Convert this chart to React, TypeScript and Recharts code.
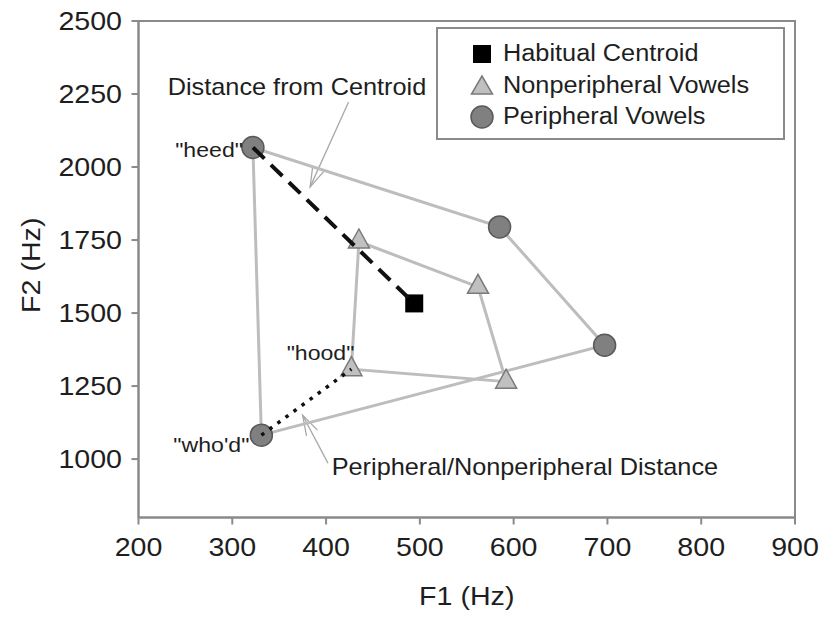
import React from 'react';
import {
  ScatterChart,
  Scatter,
  XAxis,
  YAxis,
  Legend,
  Label,
  ReferenceArea,
  ReferenceLine,
  ReferenceDot,
} from 'recharts';

// Formant values in Hz (F1 = x, F2 = y)
const peripheralWords = ['heed', '', '', "who'd"];
const peripheralF1 = [322, 585, 697, 331];
const peripheralF2 = [2067, 1795, 1390, 1082];

const nonperipheralWords = ['', '', '', 'hood'];
const nonperipheralF1 = [435, 562, 592, 427];
const nonperipheralF2 = [1745, 1590, 1265, 1308];

const centroidF1 = [494];
const centroidF2 = [1533];

const xTicks = [200, 300, 400, 500, 600, 700, 800, 900];
const yTicks = [1000, 1250, 1500, 1750, 2000, 2250, 2500];

// callouts: text anchor and arrow endpoints, in Hz
const noteTexts = ['Distance from Centroid', 'Peripheral/Nonperipheral Distance'];
const noteF1 = [369, 612];
const noteF2 = [2274, 973];
const arrowFromF1 = [424, 402];
const arrowFromF2 = [2223, 986];
const arrowToF1 = [383, 375];
const arrowToF2 = [1932, 1150];

const FONT = '"Liberation Sans", Arial, Helvetica, sans-serif';
const TEXT = '#1e1e1e';
const AXIS = '#8a8a8a';
const STRETCH = 1.1;

type Pt = { f1: number; f2: number; word: string };

const peripheral: Pt[] = peripheralF1.map((f1, i) => ({ f1, f2: peripheralF2[i], word: peripheralWords[i] }));
const nonperipheral: Pt[] = nonperipheralF1.map((f1, i) => ({ f1, f2: nonperipheralF2[i], word: nonperipheralWords[i] }));
const centroid: Pt[] = centroidF1.map((f1, i) => ({ f1, f2: centroidF2[i], word: '' }));

// closed outlines + connector lines
const peripheralRing = [...peripheral, peripheral[0]];
const nonperipheralRing = [...nonperipheral, nonperipheral[0]];
const centroidLink = [peripheral[0], centroid[0]];
const pairLink = [peripheral[3], nonperipheral[3]];

const wordOffset: Record<string, [number, number]> = {
  heed: [-10, 2],
  "who'd": [-12, 10],
  hood: [3, -16],
};

const CircleMark = ({ cx, cy }: any) => (
  <circle cx={cx} cy={cy} r={11} fill="#808080" stroke="#595959" strokeWidth={1.5} />
);

const TriangleMark = ({ cx, cy }: any) => (
  <polygon
    points={`${cx},${cy - 12.5} ${cx - 10.5},${cy + 6.5} ${cx + 10.5},${cy + 6.5}`}
    fill="#c0c0c0"
    stroke="#7a7a7a"
    strokeWidth={1.5}
  />
);

const SquareMark = ({ cx, cy }: any) => <rect x={cx - 9} y={cy - 9} width={18} height={18} fill="#000" />;

const NoMark = () => <g />;

const XTick = ({ x, y, payload }: any) => (
  <text
    transform={`translate(${x},${y}) scale(${STRETCH},1)`}
    textAnchor="middle"
    dy="0.71em"
    fontSize={26}
    fontFamily={FONT}
    fill={TEXT}
  >
    {payload.value}
  </text>
);

const YTick = ({ x, y, payload }: any) => (
  <text
    transform={`translate(${x},${y}) scale(${STRETCH},1)`}
    textAnchor="end"
    dy="0.35em"
    fontSize={26}
    fontFamily={FONT}
    fill={TEXT}
  >
    {payload.value}
  </text>
);

const Arrow = ({ x1, y1, x2, y2 }: any) => {
  const ang = Math.atan2(y1 - y2, x1 - x2);
  const len = 21;
  const spread = 0.3;
  const a = [x2 + len * Math.cos(ang - spread), y2 + len * Math.sin(ang - spread)];
  const b = [x2 + len * Math.cos(ang + spread), y2 + len * Math.sin(ang + spread)];
  return (
    <g stroke="#a8a8a8" strokeWidth={1.3} fill="none">
      <line x1={x1} y1={y1} x2={x2} y2={y2} />
      <polyline points={`${a[0]},${a[1]} ${x2},${y2} ${b[0]},${b[1]}`} />
    </g>
  );
};

const legendIcon = (type: string) => {
  if (type === 'square') return <rect x={3} y={3} width={18} height={18} fill="#000" />;
  if (type === 'triangle')
    return <polygon points="12,3 1.5,21 22.5,21" fill="#c0c0c0" stroke="#7a7a7a" strokeWidth={1.5} />;
  return <circle cx={12} cy={12} r={11} fill="#808080" stroke="#595959" strokeWidth={1.5} />;
};

const LegendBox = ({ payload }: any) => (
  <div
    style={{
      width: 349,
      height: 113,
      boxSizing: 'border-box',
      border: `2px solid ${AXIS}`,
      background: '#fff',
      paddingTop: 9,
      fontFamily: FONT,
    }}
  >
    {(payload || [])
      .filter((entry: any) => entry.type !== 'none')
      .map((entry: any) => (
        <div key={entry.value} style={{ display: 'flex', alignItems: 'center', height: 31.5 }}>
          <svg width={24} height={24} style={{ marginLeft: 32, flex: 'none' }}>
            {legendIcon(entry.type)}
          </svg>
          <span
            style={{
              marginLeft: 9,
              fontSize: 23,
              color: TEXT,
              display: 'inline-block',
              whiteSpace: 'nowrap',
              transform: `scaleX(${STRETCH})`,
              transformOrigin: 'left center',
            }}
          >
            {entry.value}
          </span>
        </div>
      ))}
  </div>
);

export default function App() {
  const labelled = [...peripheral, ...nonperipheral].filter((p) => p.word);

  return (
    <div style={{ position: 'absolute', left: 0, top: 0, background: '#fff' }}>
      <ScatterChart width={825} height={619} margin={{ top: 21, right: 30, bottom: 41.5, left: 38.5 }}>
        <XAxis
          type="number"
          dataKey="f1"
          domain={[200, 900]}
          ticks={xTicks}
          interval={0}
          height={60}
          allowDataOverflow
          stroke={AXIS}
          strokeWidth={2}
          tickSize={7}
          tickMargin={13}
          tick={<XTick />}
        >
          <Label
            content={({ viewBox }: any) => (
              <text
                transform={`translate(${viewBox.x + viewBox.width / 2},${viewBox.y + 78}) scale(${STRETCH},1)`}
                textAnchor="middle"
                dy="0.35em"
                fontSize={26}
                fontFamily={FONT}
                fill={TEXT}
              >
                F1 (Hz)
              </text>
            )}
          />
        </XAxis>
        <YAxis
          type="number"
          dataKey="f2"
          domain={[800, 2500]}
          ticks={yTicks}
          interval={0}
          width={100}
          allowDataOverflow
          stroke={AXIS}
          strokeWidth={2}
          tickSize={7}
          tickMargin={9.5}
          tick={<YTick />}
        >
          <Label
            content={({ viewBox }: any) => (
              <text
                transform={`translate(31,${viewBox.y + viewBox.height / 2 - 4}) rotate(-90) scale(${STRETCH},1)`}
                textAnchor="middle"
                dy="0.35em"
                fontSize={26}
                fontFamily={FONT}
                fill={TEXT}
              >
                F2 (Hz)
              </text>
            )}
          />
        </YAxis>

        <ReferenceArea x1={200} x2={900} y1={800} y2={2500} fill="none" stroke={AXIS} strokeWidth={2} />

        <Scatter
          name="peripheral outline"
          data={peripheralRing}
          legendType="none"
          shape={NoMark}
          line={{ stroke: '#bdbdbd', strokeWidth: 3 }}
          isAnimationActive={false}
        />
        <Scatter
          name="nonperipheral outline"
          data={nonperipheralRing}
          legendType="none"
          shape={NoMark}
          line={{ stroke: '#bdbdbd', strokeWidth: 3 }}
          isAnimationActive={false}
        />

        <Scatter name="Habitual Centroid" data={centroid} legendType="square" shape={SquareMark} isAnimationActive={false} />
        <Scatter
          name="Nonperipheral Vowels"
          data={nonperipheral}
          legendType="triangle"
          shape={TriangleMark}
          isAnimationActive={false}
        />
        <Scatter name="Peripheral Vowels" data={peripheral} legendType="circle" shape={CircleMark} isAnimationActive={false} />

        <Scatter
          name="distance from centroid"
          data={centroidLink}
          legendType="none"
          shape={NoMark}
          line={{ stroke: '#111', strokeWidth: 4, strokeDasharray: '16 9' }}
          isAnimationActive={false}
        />
        <Scatter
          name="peripheral/nonperipheral distance"
          data={pairLink}
          legendType="none"
          shape={NoMark}
          line={{ stroke: '#111', strokeWidth: 3.5, strokeDasharray: '3.5 6.5' }}
          isAnimationActive={false}
        />

        {labelled.map((p) => (
          <ReferenceDot
            key={p.word}
            x={p.f1}
            y={p.f2}
            r={0}
            shape={({ cx, cy }: any) => {
              const [dx, dy] = wordOffset[p.word] || [-10, 0];
              return (
                <text
                  transform={`translate(${cx + dx},${cy + dy}) scale(${STRETCH},1)`}
                  textAnchor="end"
                  dy="0.35em"
                  fontSize={21}
                  fontFamily={FONT}
                  fill={TEXT}
                >
                  {`"${p.word}"`}
                </text>
              );
            }}
          />
        ))}

        {noteTexts.map((t, i) => (
          <ReferenceLine
            key={`arrow-${t}`}
            segment={[
              { x: arrowFromF1[i], y: arrowFromF2[i] },
              { x: arrowToF1[i], y: arrowToF2[i] },
            ]}
            shape={Arrow}
          />
        ))}
        {noteTexts.map((t, i) => (
          <ReferenceDot
            key={t}
            x={noteF1[i]}
            y={noteF2[i]}
            r={0}
            shape={({ cx, cy }: any) => (
              <text
                transform={`translate(${cx},${cy}) scale(${STRETCH},1)`}
                textAnchor="middle"
                dy="0.35em"
                fontSize={23}
                fontFamily={FONT}
                fill={TEXT}
              >
                {t}
              </text>
            )}
          />
        ))}

        <Legend
          layout="vertical"
          align="center"
          verticalAlign="middle"
          content={<LegendBox />}
          wrapperStyle={{ left: 436, top: 27, width: 349, height: 113 }}
        />
      </ScatterChart>
    </div>
  );
}
